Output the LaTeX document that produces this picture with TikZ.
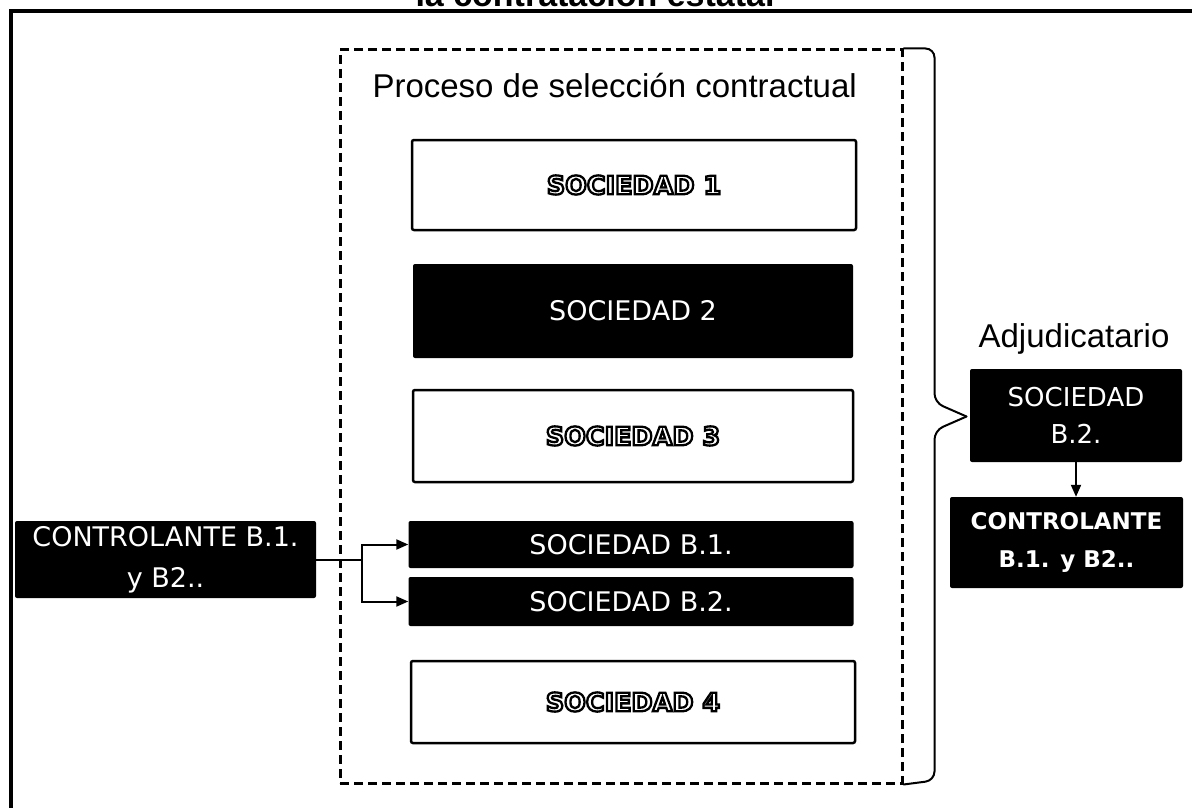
\documentclass[tikz,border=0pt]{standalone}
\usepackage{fontspec}
\setmainfont{Liberation Sans}
\newfontfamily\verdanalike{DejaVu Sans}
\usetikzlibrary{positioning}
\usetikzlibrary{calc}
\usetikzlibrary{arrows.meta}

% white letters with a black rim (fill, then stroke)
\newcommand{\hollow}[1]{{\bfseries\color{white}\special{pdf:code 0 G 2 Tr 2.3 w}#1\special{pdf:code 0 Tr}}}

\tikzset{
  whitebox/.style={draw, line width=2.5pt, rounded corners=2pt, fill=white, inner sep=0pt,
    minimum width=444pt, font=\verdanalike\fontsize{25.5}{38}\selectfont},
  darkbox/.style={fill=black, text=white, rounded corners=2pt, inner sep=0pt, align=center,
    font=\verdanalike\fontsize{27}{38}\selectfont},
}

\begin{document}
\begin{tikzpicture}[x=1pt, y=-1pt, >={Triangle[length=12pt, width=10pt]}]
        \useasboundingbox (0,0) rectangle (1192,808);
        % outer frame and its cut title
        \draw[line width=4pt] (11,808) -- (11,11) -- (1192,11);
        \node[anchor=base, font=\bfseries\fontsize{34}{40}\selectfont] (head) at (595,7) {la contratación estatal};
        % selection process
        \node[draw, line width=3pt, dash pattern=on 9pt off 5pt, minimum width=562pt, minimum height=733pt] (proc) at (621,416.5) {};
        \node[anchor=base west, font=\fontsize{33}{40}\selectfont] (proctitle) at (369,97) {Proceso de selección contractual};
        \node[whitebox, minimum height=90pt] (s1) at (634,185) {\hollow{SOCIEDAD 1}};
        \node[darkbox, minimum width=440pt, minimum height=94pt] (s2) at (633,311) {SOCIEDAD 2};
        \node[whitebox, minimum width=440pt, minimum height=92pt] (s3) at (633,436) {\hollow{SOCIEDAD 3}};
        \node[darkbox, minimum width=445pt, minimum height=47pt] (sb1) at (631,544.5) {SOCIEDAD B.1.};
        \node[darkbox, minimum width=445pt, minimum height=49pt] (sb2) at (631,601.5) {SOCIEDAD B.2.};
        \node[whitebox, minimum height=82pt] (s4) at (633,702) {\hollow{SOCIEDAD 4}};
        % controlling company
        \node[darkbox, minimum width=301pt, minimum height=77pt, font=\verdanalike\fontsize{27}{41}\selectfont] (ctrl) at (165.5,559.5) {CONTROLANTE B.1.\\ y B2..};
        \draw[line width=2pt] (ctrl.east) -- ++(46,0) coordinate (split);
        \draw[->, line width=2pt] (split) |- (sb1.west);
        \draw[->, line width=2pt] (split) |- (sb2.west);
        % brace towards the awarded bidder
        \coordinate (tip) at ($(proc.east)+(63,0)$);
        \draw[line width=2pt, line cap=round, rounded corners=9pt] (proc.north east) -- ++(31,0) -- ($(proc.east)+(31,-14)$) -- (tip);
        \draw[line width=2pt, line cap=round, rounded corners=9pt] (tip) -- ($(proc.east)+(31,14)$) -- ($(proc.south east)+(31,-4)$) -- (proc.south east);
        \node[anchor=base, font=\fontsize{33}{40}\selectfont] (adjtitle) at (1074,347) {Adjudicatario};
        \node[darkbox, minimum width=212pt, minimum height=93pt, font=\verdanalike\fontsize{26}{37}\selectfont] (adj) at (1076,415.5) {SOCIEDAD\\ B.2.};
        \node[darkbox, minimum width=233pt, minimum height=91pt, font=\verdanalike\bfseries\fontsize{23}{38}\selectfont] (ctrlR) at (1066.5,542.5) {CONTROLANTE\\ B.1. y B2..};
        \draw[->, line width=2pt] (adj.south) -- (adj.south |- ctrlR.north);
\end{tikzpicture}
\end{document}
